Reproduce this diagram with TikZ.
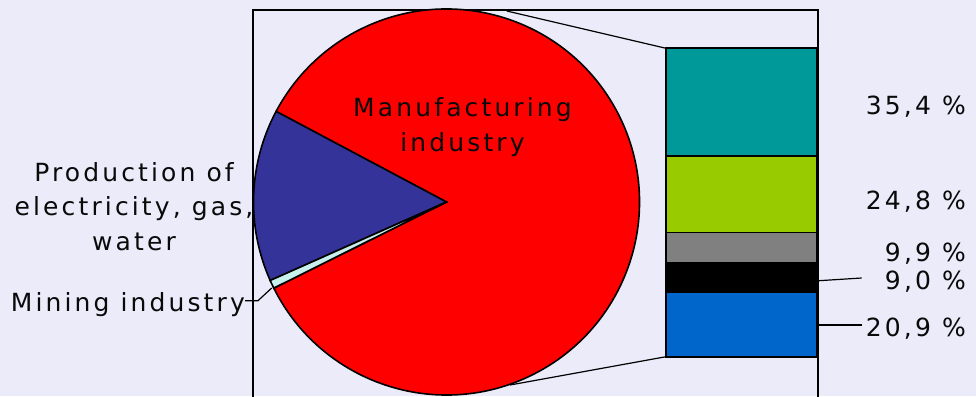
\documentclass[tikz,border=0pt]{standalone}
\usepackage{fontspec}
\setmainfont[LetterSpace=12.5]{DejaVu Sans}
\definecolor{bgcol}{RGB}{235,235,250}
\definecolor{pieblue}{RGB}{51,51,153}
\definecolor{piered}{RGB}{255,0,0}
\definecolor{piecyan}{RGB}{200,240,236}
\definecolor{barteal}{RGB}{0,153,153}
\definecolor{bargreen}{RGB}{153,204,0}
\definecolor{bargray}{RGB}{128,128,128}
\definecolor{barblue}{RGB}{0,102,204}
\definecolor{txt}{RGB}{10,10,10}
\begin{document}
\begin{tikzpicture}[x=1pt,y=1pt,
  lbl/.style={inner sep=0pt, font=\fontsize{25}{30}\selectfont, text=txt},
  edge/.style={draw=black, line width=1.6pt},
  thin/.style={draw=black, line width=1.2pt}]
\fill[bgcol] (0,0) rectangle (976,396);
\useasboundingbox (0,0) rectangle (976,396);
% frame
\draw[edge] (253,-5) -- (253,386) -- (818,386) -- (818,-5);
% pie
\coordinate (c) at (446.5,194);
\filldraw[fill=piered, edge] (c) -- ++(206.5:193) arc[start angle=206.5, end angle=512, radius=193] -- cycle;
\filldraw[fill=pieblue, edge] (c) -- ++(152:193) arc[start angle=152, end angle=204, radius=193] -- cycle;
\filldraw[fill=piecyan, edge] (c) -- ++(204:193) arc[start angle=204, end angle=206.5, radius=193] -- cycle;
% bar
\filldraw[fill=barteal, edge] (666,240) rectangle (817,347.7);
\filldraw[fill=bargreen, edge] (666,163.3) rectangle (817,240);
\filldraw[fill=bargray, edge] (666,132.7) rectangle (817,163.3);
\filldraw[fill=black, edge] (666,103.3) rectangle (817,132.7);
\filldraw[fill=barblue, edge] (666,39.3) rectangle (817,103.3);
\coordinate (bartop) at (666,347.7);
\coordinate (barbot) at (666,39.3);
\coordinate (pietop) at (506.7,385);
\coordinate (piebot) at (510,11);
\draw[thin] (pietop) -- (bartop);
\draw[thin] (piebot) -- (barbot);
% labels
\node[lbl, anchor=base] (m1) at (462.5,279.8) {Manufacturing};
\node[lbl, anchor=base] (m2) at (462.5,244.8) {industry};
\node[lbl, anchor=base] (p1) at (134,214.3) {Production of};
\node[lbl, anchor=base] (p2) at (134,180) {electricity, gas,};
\node[lbl, anchor=base] (p3) at (134,145.3) {water};
\node[lbl, anchor=base east] (mi) at (245,84.3) {Mining industry};
\node[lbl, anchor=base east] (v1) at (966,281) {35,4 \%};
\node[lbl, anchor=base east] (v2) at (966,186) {24,8 \%};
\node[lbl, anchor=base east] (v3) at (966,134.3) {9,9 \%};
\node[lbl, anchor=base east] (v4) at (966,106.7) {9,0 \%};
\node[lbl, anchor=base east] (v5) at (966,59.3) {20,9 \%};
% leaders
\coordinate (mk) at (258,95.3);
\coordinate (mp) at (271.7,108);
\draw[thin] (mi.east |- mk) -- (mk) -- (mp);
\coordinate (bk) at (819,115.3);
\coordinate (bl) at (861.7,118);
\draw[thin] (bk) -- (bl);
\coordinate (bb) at (819,71);
\coordinate (bbl) at (861.7,71);
\draw[thin] (bb) -- (bbl);
\end{tikzpicture}
\end{document}
